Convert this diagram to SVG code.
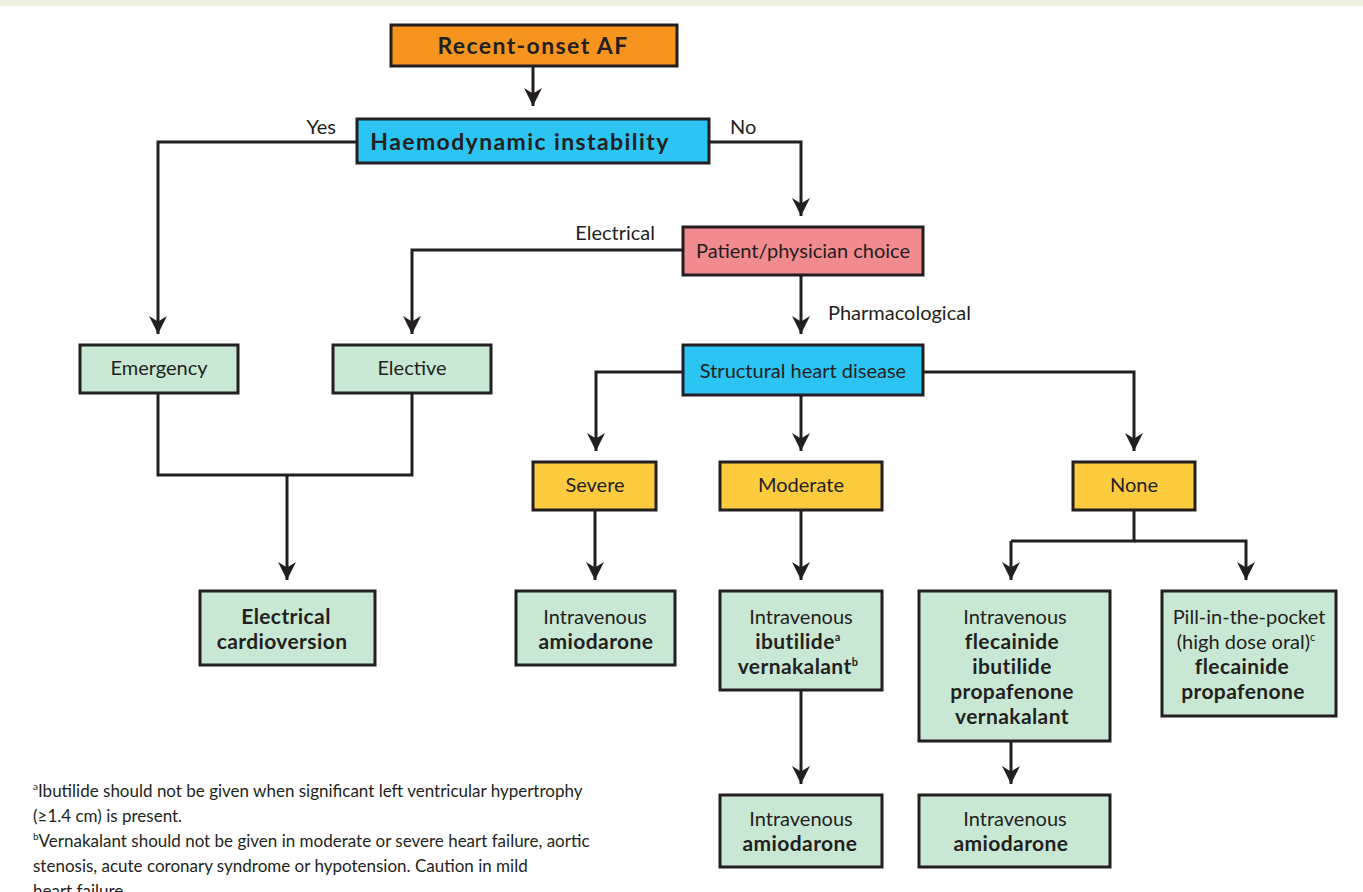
<svg xmlns="http://www.w3.org/2000/svg" width="1363" height="892" viewBox="0 0 1363 892">
<style>
.b{stroke:#231f20;stroke-width:3}
.o{fill:#f7941d}.c{fill:#2bc4f3}.p{fill:#f28b8f}.g{fill:#c9e8d3}.y{fill:#fdcb3e}
text{font-family:Lato,"Open Sans",sans-serif;fill:#231f20;font-size:20px}
.t{text-anchor:middle}
.bd{font-weight:bold;font-size:21px;letter-spacing:0.4px}
.h{font-weight:bold;font-size:23px;letter-spacing:1.4px}
.l{stroke:#231f20;stroke-width:3;fill:none}
.f{font-size:17px}
</style>
<defs>
<marker id="a" markerWidth="6" markerHeight="6" viewBox="0 0 10 10" refX="10" refY="5" orient="auto" markerUnits="strokeWidth"><path d="M0,0 L10,5 L0,10 L3,5 Z" fill="#231f20"/></marker>
</defs>
<rect x="0" y="0" width="1363" height="6" fill="#f0f0e2"/>
<g id="connectors">
<path class="l" d="M533,66 V106" marker-end="url(#a)"/>
<path class="l" d="M356,142 H158 V334" marker-end="url(#a)"/>
<path class="l" d="M710,142 H801 V216" marker-end="url(#a)"/>
<path class="l" d="M682,250 H412 V334" marker-end="url(#a)"/>
<path class="l" d="M801,276 V334" marker-end="url(#a)"/>
<path class="l" d="M682,372 H596 V451" marker-end="url(#a)"/>
<path class="l" d="M801,396 V451" marker-end="url(#a)"/>
<path class="l" d="M924,372 H1134 V451" marker-end="url(#a)"/>
<path class="l" d="M158,394 V475 H412 V394"/>
<path class="l" d="M287,475 V580" marker-end="url(#a)"/>
<path class="l" d="M595,511 V580" marker-end="url(#a)"/>
<path class="l" d="M801,511 V580" marker-end="url(#a)"/>
<path class="l" d="M1134,511 V541 H1011"/>
<path class="l" d="M1011,541 V580" marker-end="url(#a)"/>
<path class="l" d="M1134,541 H1246 V580" marker-end="url(#a)"/>
<path class="l" d="M801,691 V784" marker-end="url(#a)"/>
<path class="l" d="M1011,742 V784" marker-end="url(#a)"/>
<text x="336" y="134" text-anchor="end">Yes</text>
<text x="730" y="134">No</text>
<text x="655" y="240" text-anchor="end">Electrical</text>
<text x="828" y="320">Pharmacological</text>
</g>
<g id="n1"><rect class="b o" x="391" y="25" width="286" height="41"/><text class="t h" x="533" y="54">Recent-onset AF</text></g>
<g id="n2"><rect class="b c" x="357" y="119" width="352" height="44"/><text class="t h" x="520" y="150">Haemodynamic instability</text></g>
<g id="n3"><rect class="b p" x="683" y="227" width="240" height="48"/><text class="t" x="803" y="258">Patient/physician choice</text></g>
<g id="n4"><rect class="b c" x="683" y="345" width="240" height="50"/><text class="t" x="803" y="378">Structural heart disease</text></g>
<g id="n5"><rect class="b g" x="80" y="345" width="158" height="48"/><text class="t" x="159" y="375">Emergency</text></g>
<g id="n6"><rect class="b g" x="333" y="345" width="158" height="48"/><text class="t" x="412" y="375">Elective</text></g>
<g id="n7"><rect class="b y" x="533" y="462" width="123" height="48"/><text class="t" x="595" y="492">Severe</text></g>
<g id="n8"><rect class="b y" x="720" y="462" width="162" height="48"/><text class="t" x="801" y="492">Moderate</text></g>
<g id="n9"><rect class="b y" x="1073" y="462" width="122" height="48"/><text class="t" x="1134" y="492">None</text></g>
<g id="n10"><rect class="b g" x="200" y="591" width="175" height="74"/><text class="t bd" x="286" y="624">Electrical</text><text class="t bd" x="282" y="649">cardioversion</text></g>
<g id="n11"><rect class="b g" x="516" y="591" width="159" height="74"/><text class="t" x="595" y="624">Intravenous</text><text class="t bd" x="596" y="649">amiodarone</text></g>
<g id="n12"><rect class="b g" x="720" y="591" width="162" height="99"/><text class="t" x="801" y="624">Intravenous</text><text class="t bd" x="798" y="649">ibutilide<tspan font-size="11" dy="-8">a</tspan></text><text class="t bd" x="798" y="674">vernakalant<tspan font-size="11" dy="-8">b</tspan></text></g>
<g id="n13"><rect class="b g" x="919" y="591" width="191" height="150"/><text class="t" x="1015" y="624">Intravenous</text><text class="t bd" x="1012" y="649">flecainide</text><text class="t bd" x="1012" y="674">ibutilide</text><text class="t bd" x="1012" y="699">propafenone</text><text class="t bd" x="1012" y="724">vernakalant</text></g>
<g id="n14"><rect class="b g" x="1162" y="591" width="174" height="125"/><text class="t" x="1249" y="624">Pill-in-the-pocket</text><text class="t" x="1246" y="649">(high dose oral)<tspan font-size="11" dy="-8">c</tspan></text><text class="t bd" x="1242" y="674">flecainide</text><text class="t bd" x="1243" y="699">propafenone</text></g>
<g id="n15"><rect class="b g" x="720" y="795" width="162" height="72"/><text class="t" x="801" y="826">Intravenous</text><text class="t bd" x="800" y="851">amiodarone</text></g>
<g id="n16"><rect class="b g" x="919" y="795" width="191" height="72"/><text class="t" x="1015" y="826">Intravenous</text><text class="t bd" x="1011" y="851">amiodarone</text></g>
<g id="notes" class="f">
<text class="f" x="33" y="797"><tspan font-size="10" dy="-7">a</tspan><tspan dy="7">Ibutilide should not be given when significant left ventricular hypertrophy</tspan></text>
<text class="f" x="33" y="822">(≥1.4 cm) is present.</text>
<text class="f" x="33" y="847"><tspan font-size="10" dy="-7">b</tspan><tspan dy="7">Vernakalant should not be given in moderate or severe heart failure, aortic</tspan></text>
<text class="f" x="33" y="872">stenosis, acute coronary syndrome or hypotension. Caution in mild</text>
<text class="f" x="33" y="897">heart failure.</text>
</g>
</svg>
